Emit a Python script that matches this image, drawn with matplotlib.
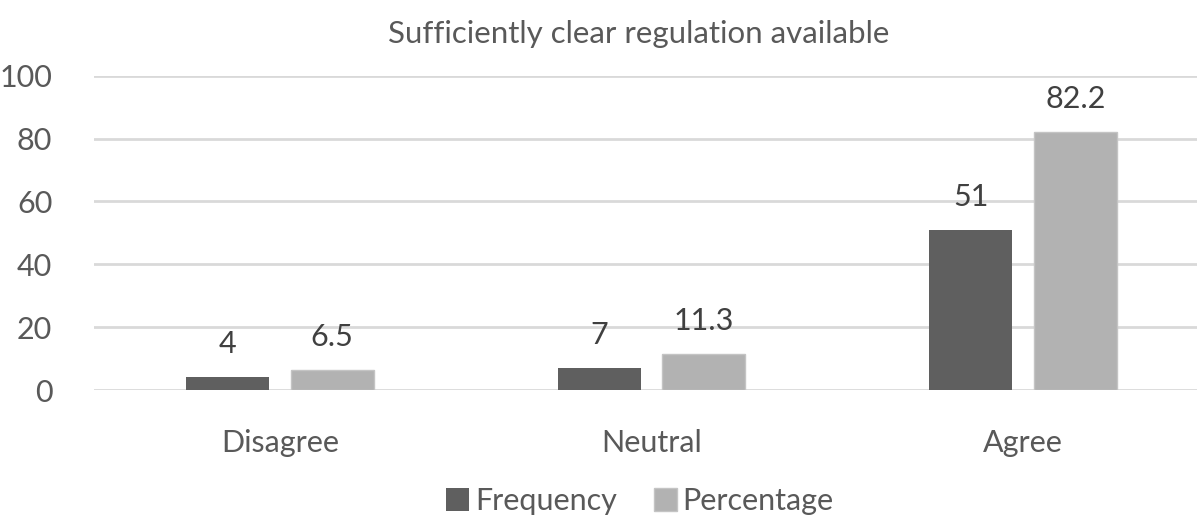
import matplotlib
matplotlib.use("Agg")
import matplotlib.pyplot as plt
import numpy as np

categories = ["Disagree", "Neutral", "Agree"]
frequency = [4, 7, 51]
percentage = [6.5, 11.3, 82.2]
freq_labels = ["4", "7", "51"]
perc_labels = ["6.5", "11.3", "82.2"]
yticks = [0, 20, 40, 60, 80, 100]
title = "Sufficiently clear regulation available"

plt.rcParams['font.family'] = ['Lato', 'DejaVu Sans']
txt = '#595959'

fig = plt.figure(figsize=(11.97, 5.15), dpi=100)
ax = fig.add_axes([94/1197, 1-390/515, 1115/1197, (390-75.7)/515])

x = np.arange(len(categories))
w = 0.223
off = 0.141
ax.bar(x - off, frequency, w, color='#5f5f5f', zorder=3, label='Frequency')
ax.bar(x + off, percentage, w, color='#b2b2b2', edgecolor='#c4c4c4', linewidth=1, zorder=3, label='Percentage')

for xi, v, s in zip(x, frequency, freq_labels):
    ax.annotate(s, (xi - off, v), xytext=(0, 33), textcoords='offset pixels', ha='center', va='center', fontsize=22, color='#404040')
for xi, v, s in zip(x, percentage, perc_labels):
    ax.annotate(s, (xi + off, v), xytext=(0, 33), textcoords='offset pixels', ha='center', va='center', fontsize=22, color='#404040')

ax.set_xlim(-0.5, 2.5)
ax.set_ylim(0, 100)
ax.set_yticks(yticks)
ax.set_yticklabels([str(t) for t in yticks])
ax.set_xticks(x)
ax.set_xticklabels(categories)
ax.tick_params(axis='both', length=0, labelsize=22, colors=txt)
ax.tick_params(axis='y', pad=30)
ax.tick_params(axis='x', pad=28)
ax.yaxis.grid(True, color='#d9d9d9', linewidth=2, zorder=0)
ax.set_axisbelow(True)
for s in ax.spines.values():
    s.set_visible(False)

fig.text(639/1197, 1-34/515, title, ha='center', va='center', fontsize=22.5, color=txt)
fig.legend(loc='center', bbox_to_anchor=(640/1197, 1-501/515), ncol=2, frameon=False,
           fontsize=22, labelcolor=txt, handlelength=0.75, handleheight=0.75, handletextpad=0.2,
           columnspacing=1.2)

fig.savefig("out.png", dpi=100)
